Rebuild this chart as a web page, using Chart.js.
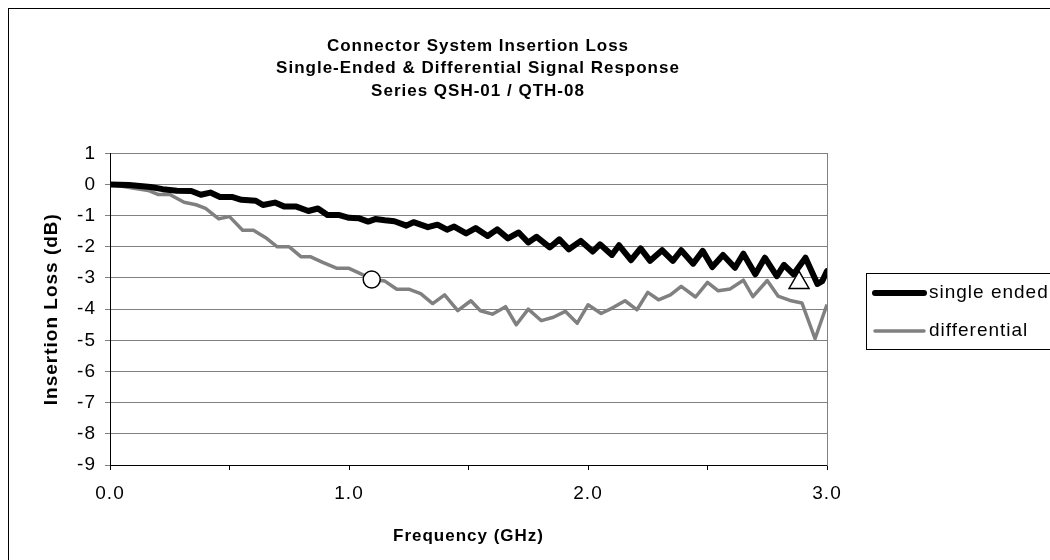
<!DOCTYPE html>
<html>
<head>
<meta charset="utf-8">
<script src="https://cdn.jsdelivr.net/npm/chart.js@4.4.1/dist/chart.umd.min.js"></script>
<style>
  html, body { margin: 0; padding: 0; background: #fff; overflow: hidden; }
</style>
</head>
<body>
<canvas id="myChart" width="1050" height="560"></canvas>
<script>
// single ended trace (GHz, dB)
const seFreq = [0.00, 0.08, 0.17, 0.22, 0.28, 0.34, 0.38, 0.42, 0.46, 0.51, 0.55, 0.61, 0.64, 0.69, 0.73,
  0.78, 0.83, 0.87, 0.91, 0.96, 1.00, 1.04, 1.08, 1.11, 1.15, 1.19, 1.24, 1.27, 1.33, 1.37, 1.41, 1.44,
  1.49, 1.53, 1.58, 1.62, 1.665, 1.71, 1.75, 1.785, 1.84, 1.88, 1.92, 1.97, 2.02, 2.05, 2.10, 2.13, 2.18,
  2.22, 2.26, 2.31, 2.355, 2.39, 2.44, 2.48, 2.52, 2.565, 2.615, 2.65, 2.70, 2.74, 2.79, 2.82, 2.86, 2.91,
  2.96, 2.98, 3.00];
const seLoss = [0.00, -0.02, -0.08, -0.15, -0.20, -0.21, -0.33, -0.26, -0.40, -0.40, -0.49, -0.52, -0.66, -0.58, -0.71,
  -0.71, -0.85, -0.77, -0.98, -0.98, -1.07, -1.08, -1.19, -1.11, -1.15, -1.18, -1.32, -1.21, -1.37, -1.29, -1.45, -1.35,
  -1.57, -1.40, -1.65, -1.44, -1.73, -1.54, -1.86, -1.68, -2.02, -1.76, -2.08, -1.81, -2.15, -1.92, -2.26, -1.95, -2.43,
  -2.05, -2.45, -2.11, -2.45, -2.11, -2.54, -2.13, -2.65, -2.26, -2.67, -2.22, -2.88, -2.35, -2.94, -2.58, -2.88, -2.35,
  -3.19, -3.10, -2.78];

// differential trace (GHz, dB)
const diffFreq = [0.00, 0.05, 0.10, 0.16, 0.20, 0.25, 0.31, 0.36, 0.40, 0.455, 0.50, 0.555, 0.60, 0.65, 0.70,
  0.75, 0.80, 0.84, 0.89, 0.95, 1.00, 1.05, 1.10, 1.15, 1.20, 1.25, 1.30, 1.35, 1.40, 1.455, 1.51, 1.55,
  1.60, 1.655, 1.70, 1.75, 1.805, 1.855, 1.905, 1.955, 2.00, 2.055, 2.105, 2.155, 2.205, 2.25, 2.295, 2.345,
  2.39, 2.45, 2.50, 2.545, 2.595, 2.65, 2.69, 2.75, 2.795, 2.845, 2.895, 2.95, 3.00];
const diffLoss = [0.00, -0.06, -0.12, -0.19, -0.32, -0.32, -0.57, -0.65, -0.77, -1.10, -1.03, -1.47, -1.47, -1.70, -2.00,
  -2.00, -2.32, -2.32, -2.50, -2.69, -2.69, -2.87, -3.05, -3.10, -3.36, -3.36, -3.50, -3.82, -3.54, -4.05, -3.73, -4.05,
  -4.16, -3.92, -4.50, -4.00, -4.37, -4.26, -4.07, -4.45, -3.86, -4.14, -3.95, -3.73, -4.02, -3.46, -3.70, -3.54,
  -3.27, -3.61, -3.14, -3.41, -3.35, -3.07, -3.60, -3.08, -3.58, -3.72, -3.80, -4.95, -3.85];

// highlighted points
const circleFreq = [1.095];
const circleLoss = [-3.05];
const triFreq = [2.883];
const triLoss = [-3.15];

const seriesNames = ["single ended", "differential"];
const titleLines = ["Connector System Insertion Loss",
  "Single-Ended & Differential Signal Response",
  "Series QSH-01 / QTH-08"];

const FONT = "'Liberation Sans', Arial, sans-serif";

function pairs(xs, ys) {
  return xs.map((x, i) => ({ x: x, y: ys[i] }));
}

const spacing = {
  id: "spacing",
  beforeUpdate(chart) { chart.ctx.letterSpacing = "1px"; },
  beforeDraw(chart) { chart.ctx.letterSpacing = "1px"; },
};

const frame = {
  id: "frame",
  afterDraw(chart) {
    const ctx = chart.ctx;
    ctx.save();
    ctx.letterSpacing = "1px";
    ctx.strokeStyle = "#000";
    ctx.lineWidth = 1;
    ctx.strokeRect(8.5, 8.5, 1200, 700);
    // legend
    ctx.strokeRect(866.5, 273.5, 220, 76);
    ctx.font = "19px " + FONT;
    ctx.textBaseline = "middle";
    ctx.fillStyle = "#000";
    for (let i = 0; i < 2; i++) {
      const ds = chart.data.datasets[i];
      const y = 293 + i * 38;
      ctx.beginPath();
      ctx.strokeStyle = ds.borderColor;
      ctx.lineWidth = ds.borderWidth;
      ctx.lineCap = "round";
      ctx.moveTo(875, y);
      ctx.lineTo(924, y);
      ctx.stroke();
      ctx.fillText(ds.label, 929, y);
    }
    ctx.restore();
  },
};

const ctx = document.getElementById("myChart");
new Chart(ctx, {
  type: "scatter",
  data: {
    datasets: [
      {
        label: seriesNames[0],
        data: pairs(seFreq, seLoss),
        showLine: true,
        borderColor: "#000000",
        borderWidth: 6,
        pointRadius: 0,
        borderJoinStyle: "round",
        borderCapStyle: "round",
      },
      {
        label: seriesNames[1],
        data: pairs(diffFreq, diffLoss),
        showLine: true,
        borderColor: "#808080",
        borderWidth: 3.5,
        pointRadius: 0,
        borderJoinStyle: "round",
      },
      {
        label: "circle",
        data: pairs(circleFreq, circleLoss),
        pointStyle: "circle",
        pointRadius: 8.5,
        backgroundColor: "#ffffff",
        borderColor: "#000000",
        borderWidth: 1.5,
        order: -1,
      },
      {
        label: "triangle",
        data: pairs(triFreq, triLoss),
        pointStyle: "triangle",
        pointRadius: 11.5,
        backgroundColor: "#ffffff",
        borderColor: "#000000",
        borderWidth: 1.5,
        order: -1,
      },
    ],
  },
  options: {
    responsive: false,
    animation: false,
    layout: { padding: { left: 0, right: 94, top: 0, bottom: 0 } },
    plugins: {
      legend: { display: false },
      tooltip: { enabled: false },
      title: {
        display: true,
        text: titleLines,
        color: "#000",
        font: { family: FONT, size: 17, weight: "bold", lineHeight: 1.32 },
        padding: { top: 35, bottom: 51 },
      },
    },
    scales: {
      x: {
        type: "linear",
        min: 0,
        max: 3,
        ticks: {
          stepSize: 0.5,
          autoSkip: false,
          maxRotation: 0,
          color: "#000",
          font: { family: FONT, size: 19 },
          padding: 12,
          callback: (v) => (Number.isInteger(v) ? v.toFixed(1) : ""),
        },
        grid: { drawOnChartArea: false, tickLength: 5, color: "#000" },
        border: { color: "#000", width: 1 },
        title: {
          display: true,
          text: "Frequency (GHz)",
          color: "#000",
          font: { family: FONT, size: 17, weight: "bold" },
          padding: { top: 0, bottom: 13 },
        },
        afterFit: (s) => { s.height = 95; },
      },
      y: {
        min: -9,
        max: 1,
        ticks: {
          stepSize: 1,
          color: "#000",
          font: { family: FONT, size: 19 },
          padding: 9,
        },
        grid: { color: "#808080", tickLength: 5 },
        border: { color: "#000", width: 1 },
        title: {
          display: true,
          text: "Insertion Loss (dB)",
          color: "#000",
          font: { family: FONT, size: 19, weight: "bold" },
          padding: { top: 40, bottom: 0 },
        },
        afterFit: (s) => { s.width = 110; },
      },
      yR: {
        position: "right",
        min: -9,
        max: 1,
        ticks: { display: false },
        grid: { drawOnChartArea: false, drawTicks: false },
        border: { color: "#808080", width: 1 },
        afterFit: (s) => { s.width = 129; },
      },
    },
  },
  plugins: [spacing, frame],
});
</script>
</body>
</html>
